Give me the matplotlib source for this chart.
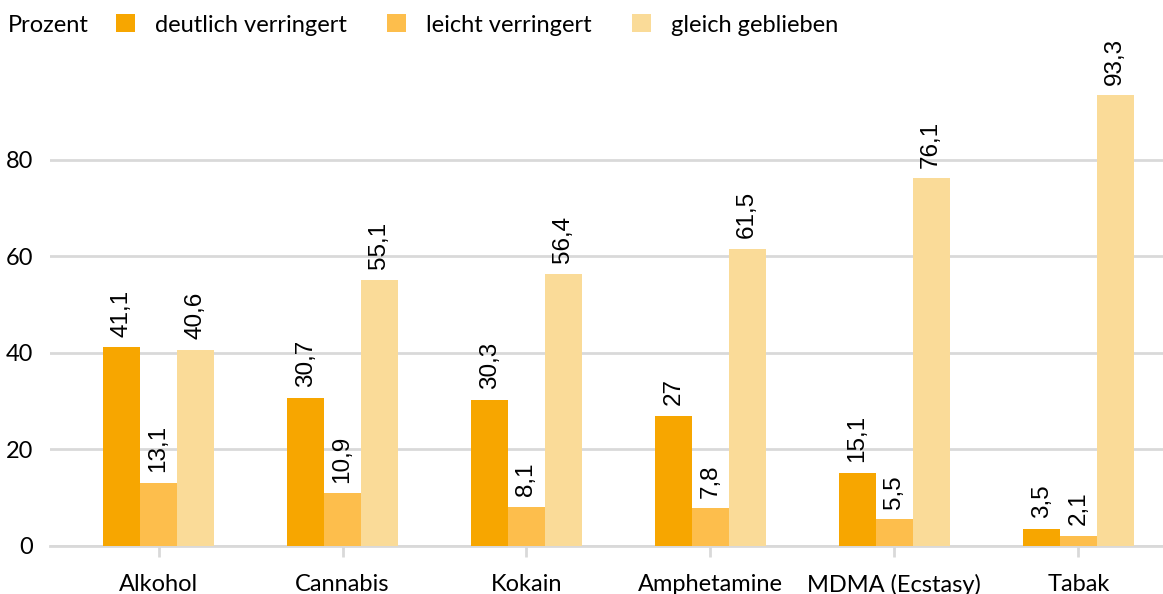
import matplotlib.pyplot as plt
import numpy as np
from matplotlib.patches import Patch

categories = ['Alkohol', 'Cannabis', 'Kokain', 'Amphetamine', 'MDMA (Ecstasy)', 'Tabak']
deutlich = [41.1, 30.7, 30.3, 27, 15.1, 3.5]
leicht = [13.1, 10.9, 8.1, 7.8, 5.5, 2.1]
gleich = [40.6, 55.1, 56.4, 61.5, 76.1, 93.3]
series_names = ['deutlich verringert', 'leicht verringert', 'gleich geblieben']
colors = ['#F7A600', '#FDBE4C', '#FADB98']

plt.rcParams['font.family'] = ['Lato', 'DejaVu Sans']
plt.rcParams['font.size'] = 17

fig = plt.figure(figsize=(11.63, 5.94), dpi=100)
ax = fig.add_axes([50 / 1163, 1 - 546 / 594, 1 - 50 / 1163, (546 - 63) / 594])

x = np.arange(len(categories))
w = 0.2
for i, (vals, c) in enumerate(zip([deutlich, leicht, gleich], colors)):
    bars = ax.bar(x + (i - 1) * w, vals, w, color=c, zorder=3)
    for b, v in zip(bars, vals):
        lbl = f'{v:g}'.replace('.', ',')
        ax.text(b.get_x() + b.get_width() / 2, v + 2.2, lbl, rotation=90,
                ha='center', va='bottom', fontsize=17.5,
                family=['Liberation Sans', 'DejaVu Sans'], clip_on=False)

ax.set_xlim(-0.59, 5.46)
ax.set_ylim(0, 100)
ax.set_yticks([0, 20, 40, 60, 80])
ax.yaxis.grid(True, color='#D9D9D9', linewidth=2, zorder=0)
ax.set_axisbelow(True)
for s in ['top', 'right', 'left']:
    ax.spines[s].set_visible(False)
ax.spines['bottom'].set_color('#D9D9D9')
ax.spines['bottom'].set_linewidth(2)
ax.tick_params(axis='y', length=0, pad=12, labelsize=17)
ax.set_xticks(x)
ax.set_xticklabels(categories, fontsize=17)
ax.tick_params(axis='x', length=8, width=2, color='#D9D9D9', pad=12)

fig.text(8 / 1163, 1 - 25 / 594, 'Prozent', ha='left', va='center', fontsize=17)
handles = [Patch(facecolor=c, label=n) for c, n in zip(colors, series_names)]
fig.legend(handles=handles, loc='center left', bbox_to_anchor=(116 / 1163, 1 - 25 / 594),
           ncol=3, frameon=False, handlelength=0.8, handleheight=0.8,
           handletextpad=0.85, columnspacing=1.7, fontsize=17, borderaxespad=0,
           borderpad=0)

fig.savefig('out.png', dpi=100)
